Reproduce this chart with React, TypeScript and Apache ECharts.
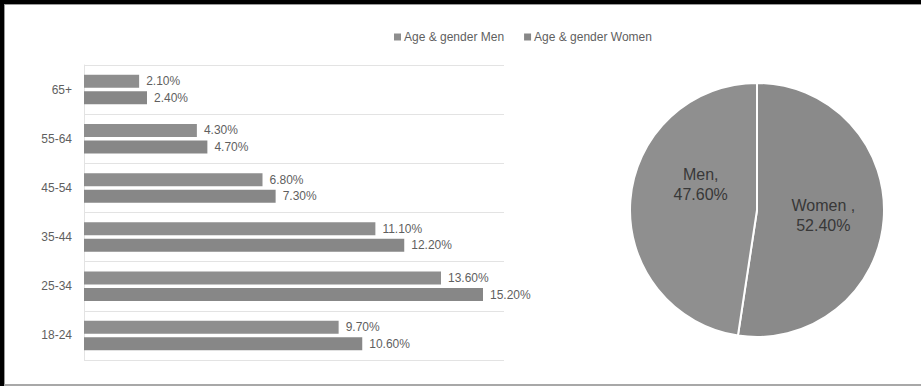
import React, { useEffect, useRef } from "react";
import * as echarts from "echarts";

const categories = ["18-24", "25-34", "35-44", "45-54", "55-64", "65+"];
const menValues = [9.7, 13.6, 11.1, 6.8, 4.3, 2.1];
const womenValues = [10.6, 15.2, 12.2, 7.3, 4.7, 2.4];
const seriesNames = ["Age & gender Men", "Age & gender Women"];
const pieNames = ["Women ", "Men"];
const pieValues = [52.4, 47.6];

const FONT = "'Liberation Sans', Arial, sans-serif";
const TXT = "#5f5f5f";

export default function App() {
  const ref = useRef<HTMLDivElement>(null);
  useEffect(() => {
    if (!ref.current) return;
    const chart = echarts.init(ref.current, undefined, { renderer: "svg" });
    const barLabel = {
      show: true,
      position: "right",
      distance: 7,
      color: TXT,
      fontFamily: FONT,
      fontSize: 12,
      formatter: (p: any) => p.value.toFixed(2) + "%",
    };
    chart.setOption({
      animation: false,
      backgroundColor: "#ffffff",
      textStyle: { fontFamily: FONT },
      legend: {
        data: seriesNames,
        left: 389,
        top: 26,
        icon: "rect",
        itemWidth: 7,
        itemHeight: 7,
        itemGap: 20,
        textStyle: { color: TXT, fontSize: 12, fontFamily: FONT, padding: [0, 0, 0, -2] },
      },
      grid: { left: 84, top: 65, width: 420, height: 295, containLabel: false },
      xAxis: {
        type: "value",
        min: 0,
        max: 16,
        show: false,
        splitLine: { show: false },
      },
      yAxis: {
        type: "category",
        data: categories,
        axisLine: { show: true, lineStyle: { color: "#e3e3e3" } },
        axisTick: { show: false },
        splitLine: { show: true, lineStyle: { color: "#e3e3e3", width: 1 } },
        axisLabel: { color: TXT, fontSize: 12, fontFamily: FONT, margin: 12 },
      },
      series: [
        {
          name: seriesNames[0],
          type: "bar",
          data: menValues,
          barWidth: 13,
          barGap: "27%",
          itemStyle: { color: "#8e8e8e" },
          label: barLabel,
        },
        {
          name: seriesNames[1],
          type: "bar",
          data: womenValues,
          barWidth: 13,
          barGap: "27%",
          itemStyle: { color: "#878787" },
          label: barLabel,
        },
        {
          type: "pie",
          center: [757, 210],
          radius: 127,
          startAngle: 90,
          clockwise: true,
          itemStyle: { borderColor: "#ffffff", borderWidth: 2 },
          label: {
            show: true,
            position: "inner",
            color: "#383838",
            fontSize: 16,
            fontFamily: FONT,
            lineHeight: 20,
            formatter: (p: any) =>
              p.name + ",\n" + p.value.toFixed(2) + "%" + (p.dataIndex === 1 ? "\n\n" : ""),
          },
          labelLine: { show: false },
          data: [
            { name: pieNames[0], value: pieValues[0], itemStyle: { color: "#8a8a8a" } },
            {
              name: pieNames[1],
              value: pieValues[1],
              itemStyle: { color: "#8f8f8f" },
              label: { padding: [0, 0, 0, 20] },
            },
          ],
        },
      ],
      graphic: [
        { type: "rect", shape: { x: 0, y: 0, width: 921, height: 4 }, style: { fill: "#000" } },
        { type: "rect", shape: { x: 0, y: 0, width: 4, height: 386 }, style: { fill: "#000" } },
        { type: "rect", shape: { x: 4, y: 4, width: 917, height: 1 }, style: { fill: "#9a9a9a" } },
        { type: "rect", shape: { x: 4, y: 4, width: 1, height: 382 }, style: { fill: "#9a9a9a" } },
        { type: "rect", shape: { x: 4, y: 384, width: 917, height: 2 }, style: { fill: "#a8a8a8" } },
      ],
    });
    return () => chart.dispose();
  }, []);
  return (
    <div
      ref={ref}
      style={{ position: "fixed", left: 0, top: 0, width: 921, height: 386 }}
    />
  );
}
